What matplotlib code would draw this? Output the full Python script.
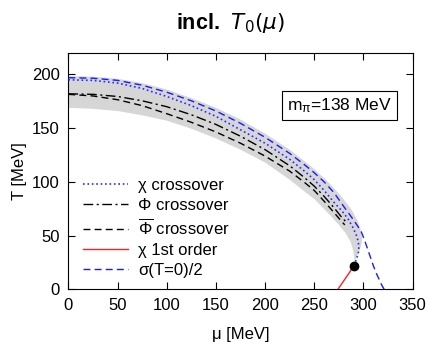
import numpy as np
import matplotlib
matplotlib.use("Agg")
from matplotlib import pyplot as plt

plt.rcParams["font.family"] = ["Liberation Sans", "DejaVu Sans"]
plt.rcParams["mathtext.fontset"] = "dejavusans"

# values (mu [MeV], T [MeV])
chi_mu = [0, 25, 50, 75, 100, 125, 150, 175, 200, 225, 240, 250, 260, 270, 278, 284,
          289, 292.5, 294.5, 295.3, 295, 293.5, 292, 290]
chi_T = [195, 194.5, 192, 187, 179.5, 171, 161, 148.5, 136, 121, 110, 102, 92, 81, 73, 66,
         58, 51, 45, 40, 35, 30, 26, 22]

phi_mu = [0, 25, 50, 75, 100, 125, 150, 175, 200, 225, 240, 250, 260, 270, 277, 283]
phi_T = [182, 181.5, 179.5, 175.5, 170, 162.5, 153.5, 142.5, 130, 115, 104, 96, 86.5, 76, 68, 62]

phibar_mu = [0, 25, 50, 75, 100, 125, 150, 175, 200, 225, 240, 250, 260, 270, 277, 281]
phibar_T = [181.5, 180, 176.5, 171, 163.5, 155.5, 146.5, 136, 124, 110, 99.5, 92, 82, 71.5, 64, 60]

first_mu = [274, 280, 286, 290]
first_T = [0, 8, 16, 22]

sigma_mu = [0, 25, 50, 75, 100, 125, 150, 175, 200, 225, 240, 250, 260, 270, 280, 288,
            294, 298, 301, 304, 307, 310, 313, 316, 318.5, 321]
sigma_T = [197, 196.5, 194.5, 190, 183.5, 175.5, 166, 154.5, 141.5, 126.5, 116, 108.5, 100,
           90, 77, 67, 59, 53, 46, 38, 30, 22, 15, 9, 4, 0]

band_out_mu = [0, 25, 50, 75, 100, 125, 150, 175, 200, 225, 250, 265, 278, 288, 294, 297,
               298.5, 298, 296, 293, 291]
band_out_T = [198.5, 198, 196, 192, 186, 178, 169, 158, 145, 130, 112, 99, 86, 74, 64, 56,
              48, 42, 36, 30, 26]
band_in_mu = [0, 25, 50, 75, 100, 125, 150, 175, 200, 225, 250, 265, 275, 282, 287, 289.5,
              290.5, 291]
band_in_T = [169, 168, 166, 162, 157, 149.5, 140.5, 130, 118, 102, 84, 70, 60, 52, 44, 36, 30, 26]

cep = (290, 22)


def main():
    fig = plt.figure(figsize=(4.31, 3.44), dpi=100)
    ax = fig.add_axes([0.1585, 0.159, 0.799, 0.687])

    ax.fill(band_out_mu + band_in_mu[::-1], band_out_T + band_in_T[::-1],
            color="#d6d6d6", lw=0, zorder=1)

    ax.plot(chi_mu, chi_T, ":", color="#2a2aff", lw=1.2, label="χ crossover", zorder=3)
    ax.plot(phi_mu, phi_T, color="black", lw=1.0, dashes=(7, 2.5, 1.5, 2.5),
            label="Φ crossover", zorder=3)
    ax.plot(phibar_mu, phibar_T, color="black", lw=1.0, dashes=(5, 3),
            label=r"$\mathregular{\overline{Φ}}$ crossover", zorder=3)
    ax.plot(first_mu, first_T, "-", color="#ff2020", lw=1.0, label="χ 1st order", zorder=3)
    ax.plot(sigma_mu, sigma_T, color="#1a1aff", lw=1.0, dashes=(5, 3),
            label="σ(T=0)/2", zorder=3)
    ax.plot([cep[0]], [cep[1]], "o", color="black", ms=6, zorder=4)

    ax.set_xlim(0, 350)
    ax.set_ylim(0, 220)
    ax.set_xticks(np.arange(0, 351, 50))
    ax.set_yticks([0, 50, 100, 150, 200])
    ax.tick_params(direction="in", top=True, right=True, length=5, labelsize=12, pad=6)
    ax.set_xlabel("μ [MeV]", fontsize=12, labelpad=10)
    ax.set_ylabel("T [MeV]", fontsize=12, labelpad=4)

    ax.text(275.6, 171.4, r"$\mathregular{m_{π}}$=138 MeV", fontsize=12.5, ha="center",
            va="center",
            bbox=dict(boxstyle="square,pad=0.3", fc="white", ec="black", lw=0.8))

    ax.legend(loc="lower left", bbox_to_anchor=(0.005, -0.005), frameon=False, fontsize=12,
              handlelength=2.75, handletextpad=0.6, labelspacing=0.3, borderaxespad=0.35)

    fig.text(230 / 431, 1 - 23 / 344, r"incl.  $T_0(\mu)$", ha="center", va="center",
             fontsize=15.5, fontweight="bold")

    fig.savefig("out.png", dpi=100)


if __name__ == "__main__":
    main()
